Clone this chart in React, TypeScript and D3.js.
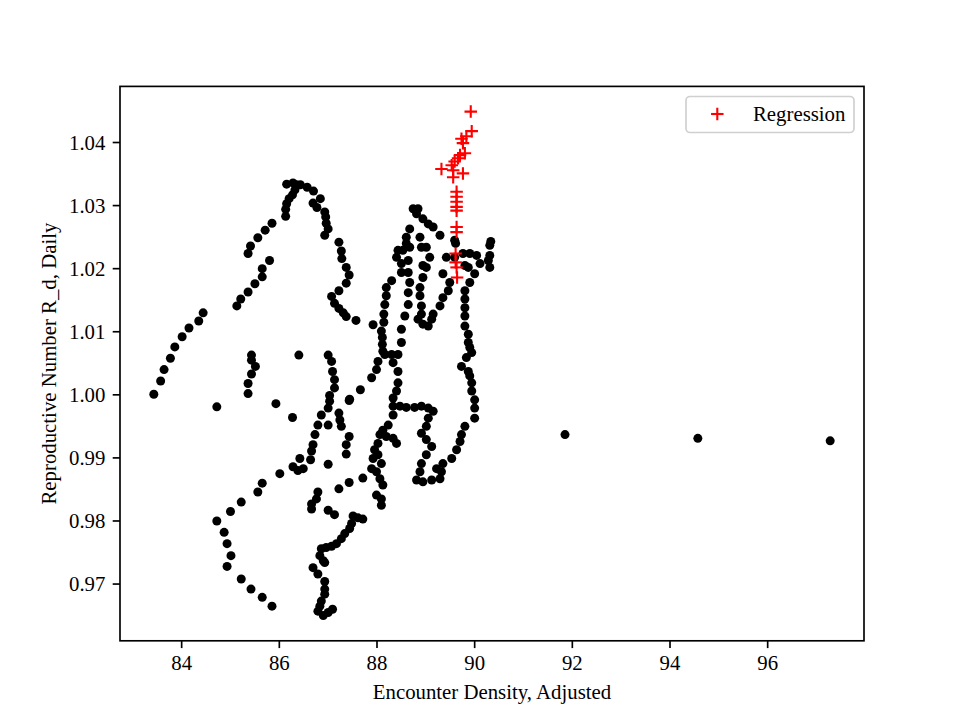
import React from 'react';
import * as d3 from 'd3';

// Black scatter: Encounter Density, Adjusted (x) vs Reproductive Number R_d, Daily (y)
const densityX = [
  83.43, 83.57, 83.64, 83.77, 83.86, 84.01, 84.15, 84.35, 84.44,
  85.13, 85.21, 85.36, 85.5, 85.65, 85.65, 85.8,
  85.36, 85.41, 85.56, 85.71, 85.85, 86.13, 86.13, 86.15, 86.2, 86.27, 86.32, 86.35, 86.28, 86.15, 86.43, 86.57, 86.7, 86.84, 86.69, 86.77, 86.93, 86.95, 86.96, 87.0, 86.93,
  87.22, 87.27, 87.28, 87.37, 87.43, 87.37, 87.22, 87.07, 87.13, 87.22, 87.31, 87.37, 87.57, 87.92,
  88.67, 88.6, 88.6, 88.53, 88.43, 88.4, 88.5, 88.5, 88.67, 88.64, 88.64, 88.67, 88.64, 88.64, 88.57, 88.5, 88.5,
  88.3, 88.19, 88.19, 88.16, 88.14, 88.14, 88.09, 88.11, 88.11, 88.12, 88.16, 88.3, 88.43, 88.02, 87.99, 87.89, 87.66, 87.44,
  88.33, 88.43, 88.43, 88.4, 88.33, 88.33, 88.33, 88.23, 88.12, 88.06, 88.19, 88.33, 88.4, 88.02, 87.95, 88.02, 87.92, 88.09, 87.89, 87.99, 88.06, 88.12, 87.71, 87.99, 88.09, 88.09,
  88.47, 88.6, 88.77, 88.91, 89.05, 89.15, 89.05, 89.01, 88.91, 89.01, 89.12, 89.01, 88.91, 88.88, 88.81, 88.94, 89.12, 89.29, 89.32, 89.22, 89.35, 89.53, 89.63, 89.7, 89.73, 89.8,
  90.0, 90.0, 90.0, 89.94, 89.94, 89.9, 89.87, 89.73, 89.83, 89.94, 89.9, 89.87, 89.87, 89.8, 89.8, 89.8, 89.8, 89.8, 89.9, 90.0, 89.87, 89.8, 90.11, 90.04, 89.9, 89.76, 90.31, 90.31, 90.31, 90.28, 90.33,
  88.74, 88.84, 88.81, 88.94, 89.05, 89.15, 89.29, 88.88, 88.91, 89.01, 89.08, 88.94, 89.01, 88.94, 88.88, 88.88, 88.91, 88.91, 88.84, 88.94, 89.05, 89.12, 89.15, 89.29, 89.35, 89.46, 89.42, 89.35, 89.49, 89.59, 89.61, 89.59,
  85.43, 85.43, 85.51, 85.43, 85.36, 85.36, 84.72, 85.93, 86.27, 86.4,
  87.0, 87.07, 87.09, 87.13, 87.13, 87.03, 87.03, 87.0, 86.86, 87.22, 87.24, 86.79, 87.0, 87.27, 86.73, 87.43, 86.69, 87.37, 86.66, 87.37, 86.64, 87.0, 86.42, 86.28, 86.38, 86.49, 86.01, 87.43,
  87.43, 87.22, 86.79, 86.76, 86.66, 86.66, 87.0, 87.13, 87.51, 87.61, 87.71, 87.48, 87.44, 87.34, 87.27, 87.17, 87.07, 86.96, 86.86, 86.83, 86.9, 86.93, 86.69, 86.79, 86.93, 86.93, 86.93, 86.86, 86.83, 86.79, 86.9, 87.0, 87.09,
  85.65, 85.56, 85.22, 85.0, 84.72, 84.87, 84.93, 85.01, 84.93, 85.22, 85.42, 85.65, 85.85,
  91.85, 94.57, 97.28,
];
const rdY = [
  1.0001, 1.0022, 1.004, 1.0058, 1.0076, 1.0092, 1.0106, 1.0117, 1.013,
  1.0141, 1.0152, 1.0163, 1.0176, 1.0187, 1.02, 1.0213,
  1.0224, 1.0236, 1.0249, 1.0261, 1.0272, 1.0283, 1.0294, 1.0303, 1.0311, 1.0317, 1.0325, 1.0333, 1.0336, 1.0334, 1.0333, 1.0329, 1.0323, 1.0311, 1.0304, 1.0297, 1.029, 1.0282, 1.0272, 1.0263, 1.0253,
  1.0242, 1.0228, 1.0216, 1.0202, 1.019, 1.0177, 1.0165, 1.0156, 1.0145, 1.0137, 1.013, 1.0124, 1.0118, 1.0111,
  1.0263, 1.025, 1.024, 1.0229, 1.0229, 1.0218, 1.0208, 1.0194, 1.0234, 1.0213, 1.0194, 1.0178, 1.0162, 1.0143, 1.0125, 1.0104, 1.0083,
  1.0181, 1.017, 1.0157, 1.0143, 1.0128, 1.0115, 1.0101, 1.0091, 1.008, 1.0069, 1.0064, 1.0064, 1.0064, 1.0053, 1.004, 1.0027, 1.0008, 0.9993,
  1.0051, 1.0037, 1.0019, 1.0006, 0.9995, 0.9982, 0.9968, 0.9952, 0.9944, 0.9937, 0.9934, 0.9931, 0.9923, 0.9923, 0.9913, 0.9905, 0.9899, 0.9891, 0.9883, 0.9878, 0.9867, 0.9857, 0.9868, 0.9841, 0.9835, 0.9825,
  0.9982, 0.998, 0.998, 0.9982, 0.9979, 0.9974, 0.9963, 0.995, 0.9939, 0.9929, 0.9918, 0.9905, 0.9891, 0.9878, 0.9865, 0.9862, 0.9865, 0.9867, 0.9878, 0.9883, 0.9891, 0.9899, 0.9913, 0.9926, 0.9937, 0.995,
  0.9963, 0.9979, 0.9992, 1.0006, 1.0019, 1.003, 1.0037, 1.0045, 1.0059, 1.0067, 1.0075, 1.0083, 1.0096, 1.0109, 1.0125, 1.0138, 1.0152, 1.0165, 1.0178, 1.0192, 1.0202, 1.0205, 1.0208, 1.0221, 1.0224, 1.0224, 1.0237, 1.0221, 1.0202, 1.0213, 1.0243,
  1.0295, 1.0295, 1.0287, 1.0279, 1.0271, 1.0266, 1.0253, 1.025, 1.0234, 1.0234, 1.0218, 1.0205, 1.0202, 1.0186, 1.017, 1.0157, 1.0141, 1.0128, 1.012, 1.0112, 1.0109, 1.012, 1.0128, 1.0141, 1.0154, 1.0165, 1.0218, 1.0192, 1.0178, 1.0245, 1.024, 1.0218,
  1.0063, 1.0055, 1.0045, 1.0033, 1.0018, 1.0002, 0.9981, 0.9986, 0.9964, 1.0063,
  1.0063, 1.0053, 1.0037, 1.0024, 1.0011, 0.9999, 0.999, 0.9979, 0.9968, 0.9971, 0.996, 0.9952, 0.9952, 0.995, 0.9937, 0.9934, 0.9921, 0.9921, 0.9911, 0.9906, 0.9897, 0.989, 0.9899, 0.9886, 0.988, 0.9883, 0.9875, 0.9991,
  0.9861, 0.9851, 0.9846, 0.9835, 0.9827, 0.9819, 0.9817, 0.981, 0.9808, 0.9805, 0.9803, 0.9796, 0.9788, 0.978, 0.9772, 0.9764, 0.976, 0.9758, 0.9756, 0.9745, 0.9737, 0.9734, 0.9726, 0.9716, 0.9704, 0.9692, 0.9684, 0.9673, 0.9665, 0.9657, 0.965, 0.9655, 0.966,
  0.986, 0.9846, 0.983, 0.9815, 0.98, 0.9782, 0.9764, 0.9745, 0.9728, 0.9708, 0.9692, 0.9679, 0.9665,
  0.9937, 0.9931, 0.9927,
];

// Red "+" series: Regression
const regressionX = [
  89.92, 89.94, 89.83, 89.73, 89.76, 89.8, 89.7, 89.66, 89.59, 89.53, 89.32, 89.56, 89.76, 89.56,
  89.63, 89.63, 89.63, 89.63, 89.63, 89.63, 89.63, 89.61, 89.61, 89.63, 89.64,
];
const regressionY = [
  1.0449, 1.0418, 1.041, 1.0406, 1.0399, 1.0383, 1.038, 1.0375, 1.037, 1.0364, 1.0358, 1.0356, 1.0351, 1.0345,
  1.0322, 1.0314, 1.0306, 1.0298, 1.0292, 1.0266, 1.0258, 1.0224, 1.021, 1.0202, 1.0186,
];

const xTicks = [84, 86, 88, 90, 92, 94, 96];
const yTicks = [0.97, 0.98, 0.99, 1.0, 1.01, 1.02, 1.03, 1.04];
const xLabel = 'Encounter Density, Adjusted';
const yLabel = 'Reproductive Number R_d, Daily';
const legendLabel = 'Regression';

const L = 120, R = 864, T = 86.4, B = 640.8;
const FONT = '"Liberation Serif", "Times New Roman", Times, serif';
const FS = 20.8;

export default function App() {
  const allX = [...densityX, ...regressionX];
  const allY = [...rdY, ...regressionY];
  const [xa, xb] = d3.extent(allX) as [number, number];
  const [ya, yb] = d3.extent(allY) as [number, number];
  const mx = (xb - xa) * 0.05;
  const my = (yb - ya) * 0.05;
  const xs = d3.scaleLinear().domain([xa - mx, xb + mx]).range([L, R]);
  const ys = d3.scaleLinear().domain([ya - my, yb + my]).range([B, T]);
  const tickLen = 7.3;
  const plus = 6.25;

  return (
    <svg width={960} height={720} style={{ position: 'absolute', left: 0, top: 0, background: '#fff' }} fontFamily={FONT}>
      <rect x={0} y={0} width={960} height={720} fill="#fff" />
      <defs>
        <clipPath id="plotclip">
          <rect x={L} y={T} width={R - L} height={B - T} />
        </clipPath>
      </defs>
      <g clipPath="url(#plotclip)">
        {densityX.map((d, i) => (
          <circle key={'p' + i} cx={xs(d)} cy={ys(rdY[i])} r={4.5} fill="#000" />
        ))}
        {regressionX.map((d, i) => {
          const cx = xs(d), cy = ys(regressionY[i]);
          return (
            <g key={'r' + i} stroke="#ff0000" strokeWidth={2.1}>
              <line x1={cx - plus} x2={cx + plus} y1={cy} y2={cy} />
              <line x1={cx} x2={cx} y1={cy - plus} y2={cy + plus} />
            </g>
          );
        })}
      </g>
      <rect x={L} y={T} width={R - L} height={B - T} fill="none" stroke="#000" strokeWidth={1.67} />
      {xTicks.map((t) => (
        <g key={'xt' + t}>
          <line x1={xs(t)} x2={xs(t)} y1={B} y2={B + tickLen} stroke="#000" strokeWidth={1.67} />
          <text x={xs(t)} y={670} fontSize={FS} textAnchor="middle" fill="#000">{d3.format('d')(t)}</text>
        </g>
      ))}
      {yTicks.map((t) => (
        <g key={'yt' + t}>
          <line x1={L - tickLen} x2={L} y1={ys(t)} y2={ys(t)} stroke="#000" strokeWidth={1.67} />
          <text x={105.4} y={ys(t) + 7} fontSize={FS} textAnchor="end" fill="#000">{d3.format('.2f')(t)}</text>
        </g>
      ))}
      <text x={(L + R) / 2} y={699} fontSize={FS} textAnchor="middle" fill="#000">{xLabel}</text>
      <text transform={`translate(56, ${(T + B) / 2}) rotate(-90)`} fontSize={FS} textAnchor="middle" fill="#000">{yLabel}</text>
      <g>
        <rect x={686} y={96.5} width={168} height={36} rx={4} ry={4} fill="#fff" fillOpacity={0.8} stroke="#d0d0d0" strokeWidth={1.7} />
        <g stroke="#ff0000" strokeWidth={2.1}>
          <line x1={717.3 - plus} x2={717.3 + plus} y1={114} y2={114} />
          <line x1={717.3} x2={717.3} y1={114 - plus} y2={114 + plus} />
        </g>
        <text x={753} y={120.5} fontSize={FS} fill="#000">{legendLabel}</text>
      </g>
    </svg>
  );
}
